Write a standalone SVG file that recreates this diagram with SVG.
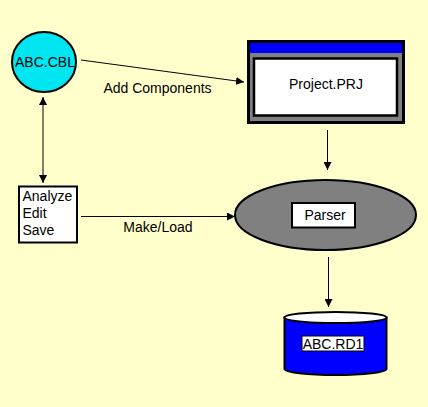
<svg xmlns="http://www.w3.org/2000/svg" width="428" height="407" viewBox="0 0 428 407">
<style>
text{font-family:"Liberation Sans",Arial,sans-serif;font-size:14px;fill:#000}
.c{text-anchor:middle}
.ln{stroke:#000;stroke-width:1;fill:none}
</style>
<defs>
<marker id="ah" markerUnits="userSpaceOnUse" markerWidth="10" markerHeight="8" refX="8" refY="4" orient="auto">
<path d="M0,0 L8,4 L0,8 z" fill="#000"/>
</marker>
<marker id="as" markerUnits="userSpaceOnUse" markerWidth="10" markerHeight="8" refX="0" refY="4" orient="auto">
<path d="M8,0 L0,4 L8,8 z" fill="#000"/>
</marker>
</defs>
<rect x="0" y="0" width="428" height="407" fill="#ffffcc"/>
<g id="connectors">
<line class="ln" x1="81" y1="60" x2="244" y2="82" marker-end="url(#ah)"/>
<line class="ln" x1="43" y1="97" x2="43" y2="183" marker-start="url(#as)" marker-end="url(#ah)"/>
<line class="ln" x1="81" y1="216.5" x2="235" y2="216.5" marker-end="url(#ah)"/>
<line class="ln" x1="327.5" y1="130" x2="327.5" y2="170" marker-end="url(#ah)"/>
<line class="ln" x1="328.5" y1="257" x2="328.5" y2="307" marker-end="url(#ah)"/>
<text class="c" x="157.5" y="93">Add Components</text>
<text class="c" x="158" y="231.5">Make/Load</text>
</g>
<g id="abc-cbl">
<ellipse cx="44" cy="62" rx="32" ry="30" fill="#00e6f0" stroke="#000" stroke-width="2"/>
<text class="c" x="45" y="67">ABC.CBL</text>
</g>
<g id="project-prj">
<rect x="248.5" y="41.5" width="155" height="81" fill="#808080" stroke="#000" stroke-width="3"/>
<rect x="250" y="43" width="152" height="10" fill="#0000ff"/>
<rect x="254" y="58.5" width="143" height="57" fill="#fff" stroke="#000" stroke-width="2.5"/>
<text class="c" x="326" y="88.5">Project.PRJ</text>
</g>
<g id="analyze">
<rect x="19" y="186.5" width="58" height="56" fill="#fff" stroke="#000" stroke-width="2"/>
<text x="22.5" y="201">Analyze</text>
<text x="22.5" y="218">Edit</text>
<text x="22.5" y="234.5">Save</text>
</g>
<g id="parser">
<ellipse cx="325.5" cy="215" rx="90.5" ry="35" fill="#808080" stroke="#000" stroke-width="2"/>
<rect x="292" y="203" width="63" height="24.5" fill="#fff" stroke="#000" stroke-width="2"/>
<text class="c" x="325" y="220">Parser</text>
</g>
<g id="abc-rd1">
<path d="M284.5,317.5 L284.5,369 A51,6 0 0 0 386.5,369 L386.5,317.5 z" fill="#0000ff" stroke="#000" stroke-width="2"/>
<ellipse cx="335.5" cy="317.5" rx="51" ry="5.5" fill="#fff" stroke="#000" stroke-width="2"/>
<rect x="302" y="336" width="62" height="15" fill="#fff" stroke="#000" stroke-width="1"/>
<text class="c" x="333" y="349">ABC.RD1</text>
</g>
</svg>
